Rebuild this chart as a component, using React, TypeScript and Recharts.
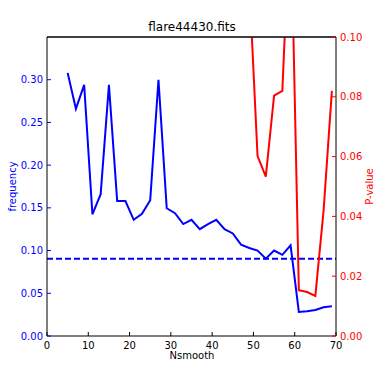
import React from "react";
import { ComposedChart, Line, XAxis, YAxis, ReferenceLine } from "recharts";

const nsmooth = [5, 7, 9, 11, 13, 15, 17, 19, 21, 23, 25, 27, 29, 31, 33, 35, 37, 39, 41, 43, 45, 47, 49, 51, 53, 55, 57, 59, 61, 63, 65, 67, 69];

const frequency = [
  0.308, 0.266, 0.294, 0.1425, 0.166, 0.294, 0.158, 0.158, 0.136, 0.143, 0.159,
  0.3, 0.1495, 0.1437, 0.131, 0.136, 0.125, 0.131, 0.136, 0.125, 0.12, 0.107,
  0.103, 0.1, 0.0906, 0.1, 0.095, 0.106, 0.0281, 0.029, 0.0304, 0.0336, 0.0347,
];

const pValue: (number | null)[] = [
  null, null, null, null, null, null, null, null, null, null, null,
  null, null, null, null, null, null, null, null, null, null, null,
  0.118, 0.0602, 0.0533, 0.0804, 0.082, 0.145, 0.0153, 0.0147, 0.0134, 0.042, 0.082,
];

const threshold = 0.0905;

const xTicks = [0, 10, 20, 30, 40, 50, 60, 70];
const freqTicks = [0, 0.05, 0.1, 0.15, 0.2, 0.25, 0.3];
const pTicks = [0, 0.02, 0.04, 0.06, 0.08, 0.1];

const FONT = "'DejaVu Sans', sans-serif";
const BLUE = "#0000ff";
const RED = "#ff0000";

const data = nsmooth.map((n, i) => ({ n, freq: frequency[i], p: pValue[i] }));

export default function App(): React.JSX.Element {
  return (
    <div style={{ position: "absolute", left: 0, top: 0, width: 374, height: 374, background: "#fff" }}>
      <ComposedChart width={374} height={374} data={data} margin={{ top: 36, right: 0, bottom: 0, left: 7 }}>
        <XAxis
          xAxisId="x"
          dataKey="n"
          type="number"
          domain={[0, 70]}
          ticks={xTicks}
          allowDataOverflow
          height={38}
          tickSize={-4}
          tickMargin={10}
          axisLine={{ stroke: "#000" }}
          tickLine={{ stroke: "#000" }}
          tick={{ fill: "#000", fontSize: 10, fontFamily: FONT }}
        />
        <XAxis
          xAxisId="top"
          dataKey="n"
          orientation="top"
          type="number"
          domain={[0, 70]}
          ticks={xTicks}
          height={1}
          tickSize={-4}
          tick={false}
          axisLine={{ stroke: "#000" }}
          tickLine={{ stroke: "#000" }}
        />
        <YAxis
          yAxisId="left"
          type="number"
          domain={[0, 0.35]}
          ticks={freqTicks}
          allowDataOverflow
          width={40}
          tickSize={-4}
          tickMargin={8}
          tickFormatter={(v: number) => v.toFixed(2)}
          axisLine={{ stroke: "#000" }}
          tickLine={{ stroke: BLUE }}
          tick={{ fill: BLUE, fontSize: 10, fontFamily: FONT }}
        />
        <YAxis
          yAxisId="right"
          orientation="right"
          type="number"
          domain={[0, 0.1]}
          ticks={pTicks}
          allowDataOverflow
          width={38}
          tickSize={-4}
          tickMargin={8}
          tickFormatter={(v: number) => v.toFixed(2)}
          axisLine={{ stroke: "#000" }}
          tickLine={{ stroke: RED }}
          tick={{ fill: RED, fontSize: 10, fontFamily: FONT }}
        />
        <ReferenceLine
          xAxisId="x"
          yAxisId="left"
          y={threshold}
          stroke={BLUE}
          strokeWidth={2}
          strokeDasharray="6 3"
        />
        <ReferenceLine xAxisId="x" yAxisId="left" y={0.35} stroke="#000" strokeWidth={1} />
        <Line
          xAxisId="x"
          yAxisId="left"
          dataKey="freq"
          type="linear"
          stroke={BLUE}
          strokeWidth={2}
          dot={false}
          isAnimationActive={false}
        />
        <Line
          xAxisId="x"
          yAxisId="right"
          dataKey="p"
          type="linear"
          stroke={RED}
          strokeWidth={2}
          dot={false}
          connectNulls={false}
          isAnimationActive={false}
        />
        <text x={192} y={31} textAnchor="middle" fontSize={12} fontFamily={FONT} fill="#000">
          flare44430.fits
        </text>
        <text x={192} y={359} textAnchor="middle" fontSize={10} fontFamily={FONT} fill="#000">
          Nsmooth
        </text>
        <text
          x={12}
          y={186.5}
          textAnchor="middle"
          dominantBaseline="central"
          fontSize={10}
          fontFamily={FONT}
          fill={BLUE}
          transform="rotate(-90 12 186.5)"
        >
          frequency
        </text>
        <text
          x={369}
          y={186.5}
          textAnchor="middle"
          dominantBaseline="central"
          fontSize={10}
          fontFamily={FONT}
          fill={RED}
          transform="rotate(-90 369 186.5)"
        >
          P-value
        </text>
      </ComposedChart>
    </div>
  );
}
